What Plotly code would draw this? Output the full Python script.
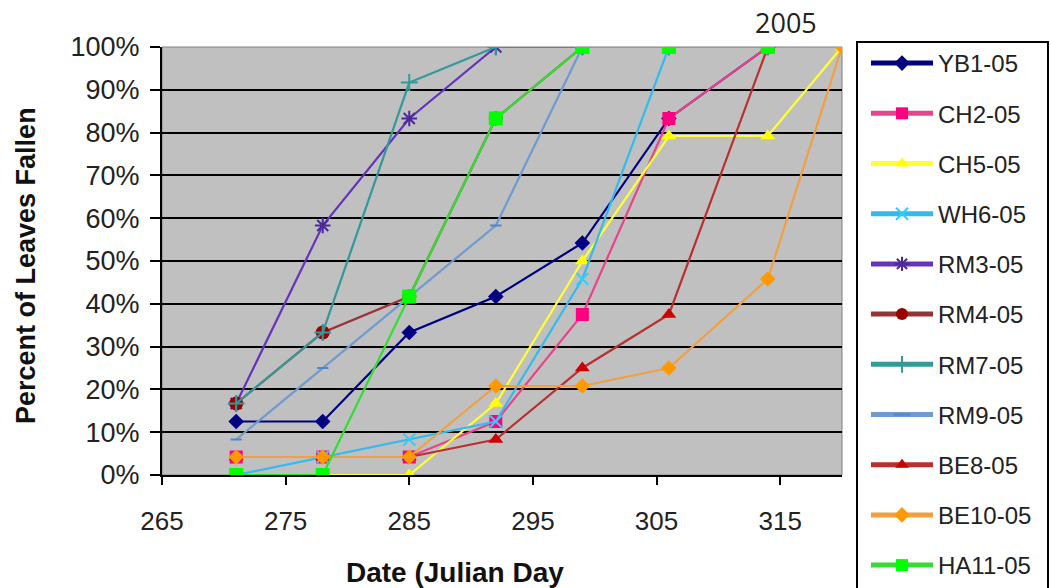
import plotly.graph_objects as go

# Julian days of the leaf-fall surveys
days = [271, 278, 285, 292, 299, 306, 314, 320]

# Cumulative percent of leaves fallen per tree (None = not surveyed / past full drop)
yb1_05 = [12.5, 12.5, 33.3, 41.7, 54.2, 83.3, 100, None]
ch2_05 = [4.2, 4.2, 4.2, 12.5, 37.5, 83.3, 100, None]
ch5_05 = [0, 0, 0, 16.7, 50.0, 79.2, 79.2, 100]
wh6_05 = [0, 4.2, 8.3, 12.5, 45.8, 100, 100, None]
rm3_05 = [16.7, 58.3, 83.3, 100, 100, 100, 100, None]
rm4_05 = [16.7, 33.3, 41.7, 83.3, 100, 100, 100, None]
rm7_05 = [16.7, 33.3, 91.7, 100, 100, 100, 100, None]
rm9_05 = [8.3, 25.0, 41.7, 58.3, 100, 100, 100, None]
be8_05 = [4.2, 4.2, 4.2, 8.3, 25.0, 37.5, 100, None]
be10_05 = [4.2, 4.2, 4.2, 20.8, 20.8, 25.0, 45.8, 100]
ha11_05 = [0, 0, 41.7, 83.3, 100, 100, 100, None]

# Axis ticks
x_ticks = [265, 275, 285, 295, 305, 315]
y_ticks = list(range(0, 101, 10))
y_tick_labels = [f"{v}%" for v in y_ticks]

series = [
    ("YB1-05", yb1_05, "#000080", "#000080", "diamond", 12),
    ("CH2-05", ch2_05, "#E8448C", "#FF0080", "square", 13),
    ("CH5-05", ch5_05, "#FFFF33", "#FFFF00", "triangle-up", 13),
    ("WH6-05", wh6_05, "#33BBEE", "#33CCFF", "x-thin", 12),
    ("RM3-05", rm3_05, "#6633BB", "#4B2A9B", "asterisk", 13),
    ("RM4-05", rm4_05, "#993333", "#990000", "circle", 14),
    ("RM7-05", rm7_05, "#339999", "#339999", "cross-thin", 12),
    ("RM9-05", rm9_05, "#6F9BD0", "#4F86C6", "line-ew", 8),
    ("BE8-05", be8_05, "#B83030", "#CC0000", "triangle-up", 13),
    ("BE10-05", be10_05, "#F0A040", "#FF9900", "diamond", 12),
    ("HA11-05", ha11_05, "#33DD33", "#00FF00", "square", 14),
]

fig = go.Figure()
for name, vals, lcol, mcol, sym, size in series:
    open_sym = sym in ("x-thin", "asterisk", "cross-thin", "line-ew")
    fig.add_trace(go.Scatter(
        x=days, y=vals, name=name, mode="lines+markers",
        legendgroup=name,
        line=dict(color=lcol, width=2.2),
        marker=dict(symbol=sym, size=size, color=mcol,
                    line=dict(color=mcol, width=2 if open_sym else 0)),
    ))

font_family = "Liberation Sans, Arial, sans-serif"

# plot area in pixels: left 162, right 842, top 47, bottom 475
PL, PR, PT, PB = 162, 842, 47, 475


def px_x(p):
    return (p - PL) / (PR - PL)


def px_y(p):
    return (PB - p) / (PB - PT)


fig.update_layout(
    width=1051, height=588,
    margin=dict(l=PL, r=1051 - PR, t=PT, b=588 - PB),
    paper_bgcolor="white",
    plot_bgcolor="#C0C0C0",
    font=dict(family=font_family, color="#222222", size=24),
    showlegend=True,
    legend=dict(
        x=px_x(866), y=px_y(44), xanchor="left", yanchor="top",
        bgcolor="rgba(0,0,0,0)", borderwidth=0,
        font=dict(size=24, family=font_family, color="#222222"),
        tracegroupgap=16, itemwidth=62, itemsizing="constant",
        maxheight=600,
    ),
    xaxis=dict(
        range=[265, 320], tickmode="array", tickvals=x_ticks,
        showgrid=False, zeroline=False,
        showline=True, linecolor="black", linewidth=2,
        ticks="outside", ticklen=8, tickwidth=2, tickcolor="black",
        tickfont=dict(size=26), ticklabelstandoff=14,
    ),
    yaxis=dict(
        range=[0, 100], tickmode="array", tickvals=y_ticks, ticktext=y_tick_labels,
        showgrid=True, gridcolor="black", gridwidth=2,
        zeroline=False,
        showline=True, linecolor="black", linewidth=2,
        ticks="outside", ticklen=10, tickwidth=2, tickcolor="black",
        tickfont=dict(size=27), ticklabelstandoff=5,
    ),
    annotations=[
        dict(text="2005", x=px_x(786), y=1.0, xref="paper", yref="paper",
             xanchor="center", yanchor="bottom", yshift=4, showarrow=False,
             font=dict(size=27, family="Open Sans, sans-serif", color="#222222")),
        dict(text="<b>Date (Julian Day</b>", x=px_x(455), y=px_y(572),
             xref="paper", yref="paper", xanchor="center", yanchor="middle",
             showarrow=False, font=dict(size=28, color="#111111")),
        dict(text="<b>Percent of Leaves Fallen</b>", textangle=-90,
             x=px_x(26), y=px_y(266), xref="paper", yref="paper",
             xanchor="center", yanchor="middle",
             showarrow=False, font=dict(size=27, color="#111111")),
    ],
    shapes=[
        dict(type="rect", xref="paper", yref="paper", x0=0, x1=1, y0=0, y1=1,
             line=dict(color="#808080", width=1), layer="below"),
        # legend frame, running off the bottom of the figure
        dict(type="rect", xref="paper", yref="paper",
             x0=px_x(857), x1=px_x(1048), y0=px_y(620), y1=px_y(42),
             line=dict(color="black", width=2), fillcolor="white", layer="below"),
    ],
)

fig.write_html("out.html")
